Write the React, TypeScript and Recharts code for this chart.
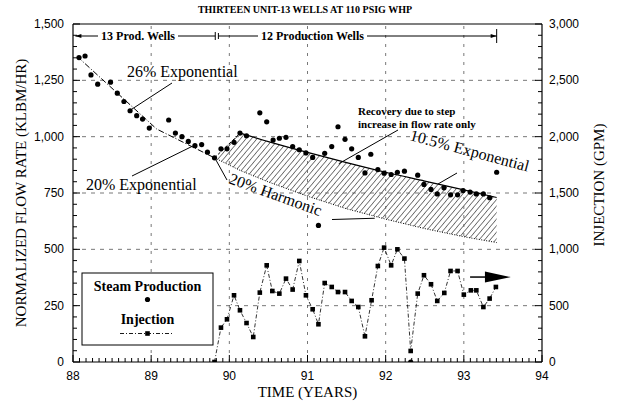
import React from "react";
import { ComposedChart, XAxis, YAxis, Scatter, Line, Area, ReferenceLine } from "recharts";

const WIDTH = 619;
const HEIGHT = 402;
const AXIS_W = 40;
const X_AXIS_H = 30;
const MARGIN = { top: 24, right: 77 - AXIS_W, bottom: 40 - X_AXIS_H, left: 73 - AXIS_W };
const X_MIN = 88;
const X_MAX = 94;
const FLOW_MAX = 1500;
const GPM_MAX = 3000;

const xMajorTicks = [88, 89, 90, 91, 92, 93, 94];
const flowMajorTicks = [0, 250, 500, 750, 1000, 1250, 1500];
const gpmMajorTicks = [0, 500, 1000, 1500, 2000, 2500, 3000];
const gridYears = [89, 90, 91, 92, 93];
const gridFlows = [250, 500, 750, 1000, 1250];

const steamYears = [
  88.077, 88.154, 88.23, 88.316, 88.48, 88.567, 88.652, 88.73, 88.815, 88.89, 88.976,
  89.224, 89.31, 89.394, 89.475, 89.56, 89.646, 89.72, 89.81, 89.893, 89.97,
  90.06, 90.136, 90.22, 90.39, 90.478, 90.56, 90.64, 90.725, 90.81, 90.895, 90.98,
  91.066, 91.14, 91.22, 91.31, 91.39, 91.48, 91.565, 91.65, 91.735, 91.81, 91.9, 91.98,
  92.07, 92.15, 92.24, 92.32, 92.41, 92.49, 92.58, 92.66, 92.746, 92.83, 92.92, 92.99,
  93.08, 93.16, 93.25, 93.33, 93.42,
];
const steamFlow = [
  1351, 1358, 1274, 1233, 1242, 1193, 1156, 1115, 1093, 1078, 1038,
  1074, 1016, 1000, 979, 960, 965, 931, 906, 946, 946,
  975, 1016, 1004, 1106, 1066, 985, 993, 997, 956, 942, 928,
  908, 606, 926, 956, 1044, 988, 946, 908, 839, 922, 854, 838,
  832, 842, 847, 0, 829, 788, 766, 746, 773, 742, 742, 761,
  754, 746, 746, 729, 842,
];

const injectionYears = [
  89.81, 89.893, 89.97, 90.06, 90.136, 90.22, 90.306, 90.39, 90.478, 90.55, 90.64,
  90.725, 90.81, 90.895, 90.98, 91.066, 91.14, 91.22, 91.31, 91.39, 91.48, 91.565,
  91.65, 91.735, 91.82, 91.9, 91.98, 92.07, 92.15, 92.24, 92.32, 92.41, 92.49, 92.58,
  92.66, 92.75, 92.83, 92.92, 93.0, 93.09, 93.16, 93.25, 93.33, 93.41,
];
const injectionGpm = [
  0, 305, 379, 592, 459, 346, 222, 616, 858, 630, 607,
  740, 643, 897, 592, 468, 335, 701, 666, 621, 621, 542,
  488, 228, 548, 852, 1015, 858, 1000, 918, 98, 607, 770, 690,
  542, 613, 808, 808, 598, 636, 636, 488, 563, 666,
];

const exponentialYears = [88.05, 89.07, 89.81];
const exponentialFlow = [1357, 1034, 906];

const hatchYears = [89.81, 90.14, 90.5, 91.0, 91.5, 92.0, 92.5, 93.0, 93.42];
const harmonicFlow = [906, 850, 799, 736, 680, 634, 592, 556, 530];
const exp105Flow = [906, 1016, 978, 930, 885, 842, 803, 764, 730];

const xMinorTicks = Array.from({ length: 73 }, (_, i) => X_MIN + i / 12);
const flowMinorTicks = Array.from({ length: 31 }, (_, i) => i * 50);
const gpmMinorTicks = Array.from({ length: 31 }, (_, i) => i * 100);

const steamData = steamYears.map((t, i) => ({ t, q: steamFlow[i] }));
const injectionData = injectionYears.map((t, i) => ({ t, g: injectionGpm[i] }));
const exponentialData = exponentialYears.map((t, i) => ({ t, q: exponentialFlow[i] }));
const hatchData = hatchYears.map((t, i) => ({ t, band: [harmonicFlow[i], exp105Flow[i]] }));
const harmonicData = hatchYears.map((t, i) => ({ t, q: harmonicFlow[i] }));
const upperData = hatchYears.slice(1).map((t, i) => ({ t, q: exp105Flow[i + 1] }));
const edgeData = hatchYears.slice(0, 2).map((t, i) => ({ t, q: exp105Flow[i] }));

const SERIF = '"Liberation Serif", "Times New Roman", serif';
const SANS = '"Liberation Sans", Arial, sans-serif';

const PL = 73;
const PR = WIDTH - 77;
const PT = MARGIN.top;
const PB = HEIGHT - 40;
const X = (t: number) => PL + ((t - X_MIN) / (X_MAX - X_MIN)) * (PR - PL);
const Y = (v: number) => PB - (v / FLOW_MAX) * (PB - PT);
const G = (v: number) => PB - (v / GPM_MAX) * (PB - PT);

const isMajor = (v: number, step: number) => Math.abs(v / step - Math.round(v / step)) < 1e-6;

const XTick = (props: any) => {
  const { x, y, payload } = props;
  const v = payload.value;
  const major = isMajor(v, 1);
  return (
    <g>
      <line x1={x} x2={x} y1={y} y2={y - (major ? 7 : 4)} stroke="#000" strokeWidth={1} />
      {major && (
        <text x={x} y={y + 18} textAnchor="middle" fontSize={12} fontFamily={SANS} fill="#000">
          {Math.round(v)}
        </text>
      )}
    </g>
  );
};

const fmt = (v: number) => v.toLocaleString("en-US");

const LeftTick = (props: any) => {
  const { x, y, payload } = props;
  const v = payload.value;
  const major = isMajor(v, 250);
  return (
    <g>
      <line x1={x} x2={x + (major ? 7 : 4)} y1={y} y2={y} stroke="#000" strokeWidth={1} />
      {major && (
        <text x={x - 9} y={y + 4} textAnchor="end" fontSize={12} fontFamily={SANS} fill="#000">
          {fmt(v)}
        </text>
      )}
    </g>
  );
};

const RightTick = (props: any) => {
  const { x, y, payload } = props;
  const v = payload.value;
  const major = isMajor(v, 500);
  return (
    <g>
      <line x1={x} x2={x - (major ? 7 : 4)} y1={y} y2={y} stroke="#000" strokeWidth={1} />
      {major && (
        <text x={x + 7} y={y + 4} textAnchor="start" fontSize={12} fontFamily={SANS} fill="#000">
          {fmt(v)}
        </text>
      )}
    </g>
  );
};

const SteamDot = (p: any) => <circle cx={p.cx} cy={p.cy} r={2.6} fill="#000" />;
const InjDot = (p: any) => (
  <rect key={`inj-${p.index}`} x={p.cx - 2.3} y={p.cy - 2.3} width={4.6} height={4.6} fill="#000" />
);

const Overlay = () => {
  const yWell = 36;
  const xa = X(88.03);
  const xb = X(89.82);
  const xc = X(89.86);
  const xd = X(93.42);
  const arrowY = G(754);
  return (
    <svg
      width={WIDTH}
      height={HEIGHT}
      style={{ position: "absolute", left: 0, top: 0, pointerEvents: "none" }}
    >
      <text x={305} y={13} textAnchor="middle" fontSize={10} fontWeight="bold" fontFamily={SERIF} fill="#000">
        THIRTEEN UNIT-13 WELLS AT 110 PSIG WHP
      </text>
      <text
        transform={`translate(26, ${(PT + PB) / 2}) rotate(-90)`}
        textAnchor="middle"
        fontSize={15}
        fontFamily={SERIF}
        fill="#000"
      >
        NORMALIZED FLOW RATE (KLBM/HR)
      </text>
      <text
        transform={`translate(604, ${(PT + PB) / 2 - 8}) rotate(-90)`}
        textAnchor="middle"
        fontSize={15}
        fontFamily={SERIF}
        fill="#000"
      >
        INJECTION (GPM)
      </text>
      <text x={(PL + PR) / 2} y={397} textAnchor="middle" fontSize={15} fontFamily={SERIF} fill="#000">
        TIME (YEARS)
      </text>

      {/* well count ranges */}
      <line x1={xa} x2={98} y1={yWell} y2={yWell} stroke="#000" strokeWidth={1} />
      <polygon points={`${xa},${yWell} ${xa + 6},${yWell - 2} ${xa + 6},${yWell + 2}`} fill="#000" />
      <text x={138} y={yWell + 4} textAnchor="middle" fontSize={12} fontWeight="bold" fontFamily={SERIF} fill="#000">
        13 Prod. Wells
      </text>
      <line x1={178} x2={xb} y1={yWell} y2={yWell} stroke="#000" strokeWidth={1} />
      <line x1={xb} x2={xb} y1={yWell - 4} y2={yWell + 4} stroke="#000" strokeWidth={1} />
      <line x1={xc} x2={xc} y1={yWell - 3} y2={yWell + 3} stroke="#000" strokeWidth={1} />
      <line x1={xc} x2={258} y1={yWell} y2={yWell} stroke="#000" strokeWidth={1} />
      <text x={261} y={yWell + 4} textAnchor="start" fontSize={12} fontWeight="bold" fontFamily={SERIF} fill="#000">
        12 Production Wells
      </text>
      <line x1={367} x2={xd} y1={yWell} y2={yWell} stroke="#000" strokeWidth={1} />
      <polygon points={`${xd},${yWell} ${xd - 6},${yWell - 2} ${xd - 6},${yWell + 2}`} fill="#000" />
      <line x1={xd} x2={xd} y1={yWell - 7} y2={yWell + 7} stroke="#000" strokeWidth={1} />

      {/* annotations */}
      <text x={127} y={77} fontSize={16} fontFamily={SERIF} fill="#000">26% Exponential</text>
      <line x1={172} y1={83} x2={X(88.73)} y2={Y(1117)} stroke="#000" strokeWidth={1} />

      <text x={86} y={190} fontSize={16} fontFamily={SERIF} fill="#000">20% Exponential</text>
      <line x1={132} y1={176} x2={X(89.53)} y2={Y(958)} stroke="#000" strokeWidth={1} />

      <text transform={`translate(228, 183) rotate(20)`} fontSize={16} fontFamily={SERIF} fill="#000">
        20% Harmonic
      </text>
      <line x1={227} y1={180} x2={X(89.82)} y2={Y(902)} stroke="#000" strokeWidth={1} />
      <line x1={332} y1={219.5} x2={X(91.86)} y2={Y(638)} stroke="#000" strokeWidth={1} />

      <text x={358} y={115} fontSize={11} fontWeight="bold" fontFamily={SERIF} fill="#000">
        Recovery due to step
      </text>
      <text x={358} y={128} fontSize={11} fontWeight="bold" fontFamily={SERIF} fill="#000">
        increase in flow rate only
      </text>
      <line x1={398} y1={130} x2={X(91.4)} y2={Y(880)} stroke="#000" strokeWidth={1} />

      <text transform={`translate(409, 140) rotate(15)`} fontSize={16} fontFamily={SERIF} fill="#000">
        10.5% Exponential
      </text>
      <line x1={457} y1={173} x2={X(92.67)} y2={Y(790)} stroke="#000" strokeWidth={1} />

      {/* injection arrow */}
      <line x1={X(93.08)} x2={X(93.35)} y1={arrowY} y2={arrowY} stroke="#000" strokeWidth={1.5} />
      <polygon
        points={`${X(93.27)},${arrowY - 5.5} ${X(93.6)},${arrowY} ${X(93.27)},${arrowY + 5.5}`}
        fill="#000"
      />

      {/* legend */}
      <rect x={82} y={273} width={131} height={72} fill="#fff" stroke="#000" strokeWidth={1} />
      <text x={147.5} y={291} textAnchor="middle" fontSize={14} fontWeight="bold" fontFamily={SERIF} fill="#000">
        Steam Production
      </text>
      <circle cx={147.5} cy={299.5} r={2.6} fill="#000" />
      <text x={147.5} y={324} textAnchor="middle" fontSize={14} fontWeight="bold" fontFamily={SERIF} fill="#000">
        Injection
      </text>
      <line x1={120} x2={174} y1={333.5} y2={333.5} stroke="#000" strokeWidth={0.9} strokeDasharray="4 2 1 2" />
      <rect x={145.2} y={331.2} width={4.6} height={4.6} fill="#000" />
    </svg>
  );
};

export default function App() {
  return (
    <div style={{ position: "absolute", left: 0, top: 0, width: WIDTH, height: HEIGHT, background: "#fff" }}>
      <ComposedChart width={WIDTH} height={HEIGHT} margin={MARGIN}>
        <defs>
          <pattern id="hatch" patternUnits="userSpaceOnUse" width={4.2} height={4.2} patternTransform="rotate(40)">
            <line x1={0} y1={0} x2={0} y2={4.2} stroke="#000" strokeWidth={1} />
          </pattern>
        </defs>
        <XAxis
          dataKey="t"
          type="number"
          domain={[X_MIN, X_MAX]}
          ticks={xMinorTicks}
          interval={0}
          height={X_AXIS_H}
          tickSize={0}
          tickMargin={0}
          tickLine={false}
          tick={<XTick />}
          axisLine={{ stroke: "#000", strokeWidth: 1.2 }}
          allowDataOverflow
        />
        <YAxis
          yAxisId="l"
          type="number"
          domain={[0, FLOW_MAX]}
          ticks={flowMinorTicks}
          interval={0}
          width={AXIS_W}
          tickSize={0}
          tickMargin={0}
          tickLine={false}
          tick={<LeftTick />}
          axisLine={{ stroke: "#000", strokeWidth: 1.2 }}
          allowDataOverflow
        />
        <YAxis
          yAxisId="r"
          orientation="right"
          type="number"
          domain={[0, GPM_MAX]}
          ticks={gpmMinorTicks}
          interval={0}
          width={AXIS_W}
          tickSize={0}
          tickMargin={0}
          tickLine={false}
          tick={<RightTick />}
          axisLine={{ stroke: "#000", strokeWidth: 1.2 }}
          allowDataOverflow
        />
        {gridYears.map((t) => (
          <ReferenceLine key={`gx${t}`} x={t} yAxisId="l" stroke="#555" strokeWidth={0.8} strokeDasharray="3 6" />
        ))}
        {gridFlows.map((v) => (
          <ReferenceLine key={`gy${v}`} y={v} yAxisId="l" stroke="#555" strokeWidth={0.8} strokeDasharray="4 5" />
        ))}
        <ReferenceLine y={FLOW_MAX} yAxisId="l" stroke="#000" strokeWidth={1.2} />

        <Area
          data={hatchData}
          dataKey="band"
          yAxisId="l"
          type="linear"
          stroke="none"
          fill="url(#hatch)"
          fillOpacity={1}
          isAnimationActive={false}
        />
        <Line data={harmonicData} dataKey="q" yAxisId="l" type="linear" stroke="#000" strokeWidth={1} strokeDasharray="1 1.5" dot={false} isAnimationActive={false} />
        <Line data={upperData} dataKey="q" yAxisId="l" type="monotone" stroke="#000" strokeWidth={1.2} dot={false} isAnimationActive={false} />
        <Line data={edgeData} dataKey="q" yAxisId="l" type="linear" stroke="#000" strokeWidth={1} strokeDasharray="3 2" dot={false} isAnimationActive={false} />
        <Line data={exponentialData} dataKey="q" yAxisId="l" type="linear" stroke="#000" strokeWidth={1} strokeDasharray="6 2 1 2" dot={false} isAnimationActive={false} />
        <Line
          data={injectionData}
          dataKey="g"
          yAxisId="r"
          type="linear"
          stroke="#000"
          strokeWidth={0.8}
          strokeDasharray="4 2 1 2"
          dot={InjDot}
          activeDot={false}
          isAnimationActive={false}
        />
        <Scatter data={steamData} dataKey="q" yAxisId="l" shape={SteamDot} isAnimationActive={false} />
      </ComposedChart>
      <Overlay />
    </div>
  );
}
